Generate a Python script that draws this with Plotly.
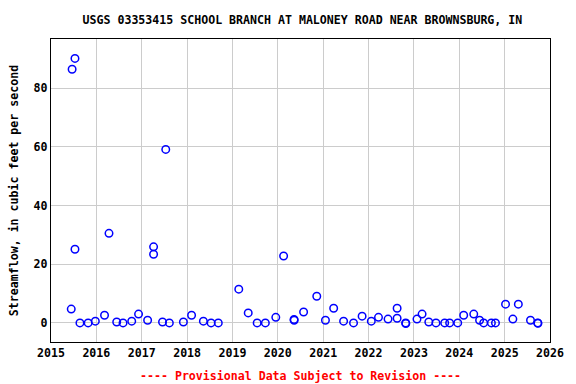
import plotly.graph_objects as go

dates = [
    "2015-06-13", "2015-06-20", "2015-07-13", "2015-07-13", "2015-08-22", "2015-10-27",
    "2015-12-24", "2016-03-07", "2016-04-12", "2016-06-13", "2016-08-03", "2016-10-12",
    "2016-12-06", "2017-02-17", "2017-04-06", "2017-04-06", "2017-06-17", "2017-07-13",
    "2017-08-11", "2017-12-02", "2018-02-06", "2018-05-12", "2018-07-13", "2018-09-09",
    "2019-02-21", "2019-05-08", "2019-07-19", "2019-09-23", "2019-12-16", "2020-02-17",
    "2020-05-11", "2020-05-12", "2020-07-27", "2020-11-10", "2021-01-19", "2021-03-26",
    "2021-06-14", "2021-09-02", "2021-11-10", "2022-01-23", "2022-03-22", "2022-06-07",
    "2022-08-19", "2022-08-19", "2022-10-27", "2022-10-28", "2023-01-26", "2023-03-08",
    "2023-05-01", "2023-06-28", "2023-09-06", "2023-10-16", "2023-12-20", "2024-02-06",
    "2024-04-27", "2024-06-13", "2024-07-16", "2024-09-16", "2024-10-19", "2025-01-08",
    "2025-03-08", "2025-04-21", "2025-07-28", "2025-09-24", "2025-09-26",
]
flow = [
    4.7, 86.4, 90.1, 25.1, 0.0, 0.0,
    0.6, 2.6, 30.5, 0.3, 0.0, 0.6,
    3.0, 0.9, 25.9, 23.4, 0.3, 59.1,
    0.0, 0.3, 2.6, 0.6, 0.0, 0.0,
    11.5, 3.4, 0.0, 0.0, 1.9, 22.8,
    1.2, 0.9, 3.7, 9.1, 0.9, 5.0,
    0.6, 0.0, 2.3, 0.6, 1.9, 1.3,
    5.0, 1.6, 0.0, -0.2, 1.3, 3.0,
    0.3, 0.0, 0.0, 0.0, 0.0, 2.6,
    3.0, 0.9, 0.0, 0.0, 0.0, 6.4,
    1.3, 6.4, 0.9, 0.0, -0.1,
]
year_ticks = [f"{y}-01-01" for y in range(2015, 2027)]
year_labels = [str(y) for y in range(2015, 2027)]
y_ticks = [0, 20, 40, 60, 80]

FONT = "DejaVu Sans Mono"

fig = go.Figure()
fig.add_trace(go.Scatter(
    x=dates, y=flow, mode="markers",
    marker=dict(symbol="circle-open", size=7.5, color="#0000ff", line=dict(width=1.5, color="#0000ff")),
    showlegend=False, hoverinfo="x+y",
))

fig.update_layout(
    width=576, height=384,
    margin=dict(l=51, r=23, t=39, b=42),
    paper_bgcolor="white", plot_bgcolor="white",
    font=dict(family=FONT, size=11.6, color="black"),
    title=dict(
        text="<b>USGS 03353415 SCHOOL BRANCH AT MALONEY ROAD NEAR BROWNSBURG, IN</b>",
        x=0.525, xanchor="center", y=0.948, yanchor="middle",
        font=dict(family=FONT, size=11.6, color="black"),
    ),
    xaxis=dict(
        type="date", range=["2015-01-01", "2026-01-01"],
        tickvals=year_ticks, ticktext=[f"<b>{t}</b>" for t in year_labels],
        showgrid=True, gridcolor="#cccccc", gridwidth=1,
        showline=True, linecolor="black", linewidth=1.2, mirror=True,
        ticks="", zeroline=False,
        tickfont=dict(family=FONT, size=11.6, color="black"),
    ),
    yaxis=dict(
        range=[-6.5, 96.7],
        tickvals=y_ticks, ticktext=[f"<b>{v}</b>" for v in y_ticks],
        showgrid=True, gridcolor="#cccccc", gridwidth=1,
        showline=True, linecolor="black", linewidth=1.2, mirror=True,
        ticks="", zeroline=False,
        tickfont=dict(family=FONT, size=11.6, color="black"),
        title=dict(text="<b>Streamflow, in cubic feet per second</b>", standoff=12,
                   font=dict(family=FONT, size=11.6, color="black")),
    ),
    annotations=[dict(
        text="<b>---- Provisional Data Subject to Revision ----</b>",
        xref="paper", yref="paper", x=0.5, y=-0.112, yanchor="middle",
        xanchor="center", showarrow=False,
        font=dict(family=FONT, size=11.6, color="#ff0000"),
    )],
)

fig.write_html("out.html")
